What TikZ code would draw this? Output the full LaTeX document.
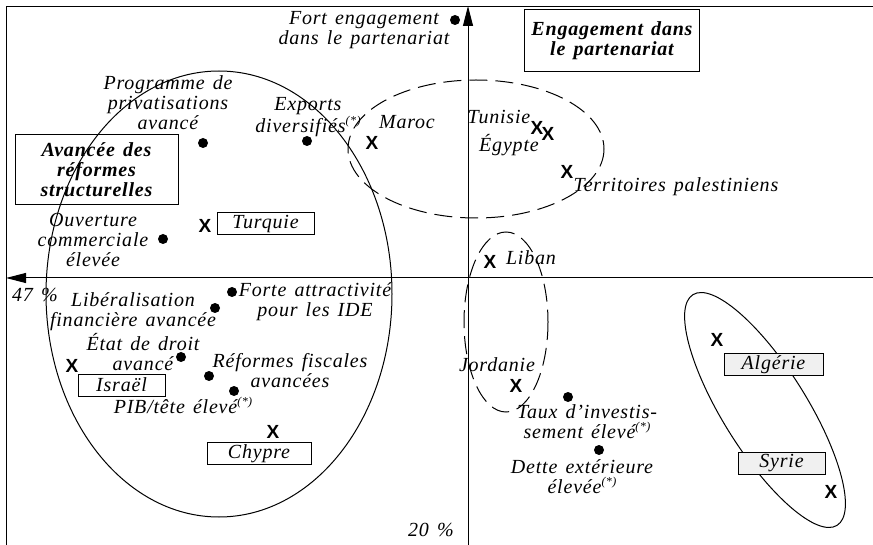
\documentclass[tikz,border=0pt]{standalone}
\usepackage{fontspec}
\setmainfont{Liberation Serif}
\newfontfamily\lblfont{Liberation Serif}[LetterSpace=4,WordSpace=1.4]
\newfontfamily\xfont{Liberation Sans}
\usetikzlibrary{arrows.meta}
\newcommand\starnote{\raisebox{0.4em}{\fontsize{12}{12}\selectfont(*)}}
\begin{document}
\begin{tikzpicture}[x=1pt,y=-1pt,
  line width=1pt,
  lbl/.style={font=\fontsize{20}{20}\selectfont\lblfont\itshape, align=center, inner sep=0pt},
  ttl/.style={draw, font=\fontsize{20}{20}\selectfont\lblfont\bfseries\itshape, align=center, inner sep=0pt},
  dot/.style={circle, fill, inner sep=0pt, minimum size=10pt},
  xm/.style={font=\fontsize{19}{19}\selectfont\xfont\bfseries, inner sep=0pt},
  cbox/.style={draw, font=\fontsize{20}{20}\selectfont\lblfont\itshape, inner sep=0pt, minimum height=22pt},
  gbox/.style={cbox, fill=black!6},
  dashell/.style={dash pattern=on 18pt off 8pt},
  axarrow/.style={-{Triangle[length=20pt,width=10pt]}}
]
\useasboundingbox (0,0) rectangle (873,545);

% frame and axes
\coordinate (fbl) at (6,545);
\coordinate (ftl) at (6,7);
\coordinate (ftr) at (873,7);
\draw (fbl) -- (ftl) -- (ftr);
\coordinate (ybot) at (468,545);
\coordinate (ytop) at (468,6);
\draw[axarrow] (ybot) -- (ytop);
\coordinate (xr) at (873,278);
\coordinate (xl) at (6,278);
\draw[axarrow] (xr) -- (xl);

% ellipses
\coordinate (ebig) at (219,294);
\draw (ebig) ellipse [x radius=173, y radius=223];
\coordinate (etop) at (476,149);
\draw[dashell] (etop) ellipse [x radius=128, y radius=69];
\coordinate (emid) at (506,322);
\draw[dashell] (emid) ellipse [x radius=42, y radius=90];
\coordinate (eright) at (765,410);
\draw[rotate around={32:(eright)}] (eright) ellipse [x radius=42, y radius=136];

% title boxes
\node[ttl, minimum width=175pt, minimum height=62pt] (eng) at (612,41) {Engagement dans\\le partenariat};
\node[ttl, minimum width=163pt, minimum height=70pt] (avf) at (96.5,170) {Avancée des\\réformes\\structurelles};

% variables (dots + labels)
\node[dot] (dfort) at (455,20) {};
\node[lbl] (lfort) at (364,30) {Fort engagement\\dans le partenariat};
\node[dot] (dprog) at (203,143) {};
\node[lbl] (lprog) at (168,103) {Programme de\\privatisations\\avancé};
\node[dot] (dexp) at (307,141) {};
\node[lbl] (lexp) at (308,117) {Exports\\diversifiés\starnote};
\node[dot] (douv) at (163,239) {};
\node[lbl] (louv) at (93,240) {Ouverture\\commerciale\\élevée};
\node[dot] (dfor) at (232,292) {};
\node[lbl] (lfor) at (315,302) {Forte attractivité\\pour les IDE};
\node[dot] (dlib) at (215,308) {};
\node[lbl] (llib) at (133,312) {Libéralisation\\financière avancée};
\node[dot] (detat) at (181,357) {};
\node[lbl] (letat) at (143,352) {État de droit\\avancé};
\node[dot] (dref) at (209,376) {};
\node[lbl] (lref) at (290,371) {Réformes fiscales\\avancées};
\node[dot] (dpib) at (234,391) {};
\node[lbl] (lpib) at (183,405) {PIB/tête élevé\starnote};
\node[dot] (dtaux) at (568,397) {};
\node[lbl] (ltaux) at (587,422) {Taux d’investis-\\sement élevé\starnote};
\node[dot] (ddette) at (599,450) {};
\node[lbl] (ldette) at (582,477) {Dette extérieure\\élevée\starnote};

% countries
\node[xm] (xmar) at (372,143) {X};
\node[lbl] (lmar) at (407,122) {Maroc};
\node[xm] (xtun) at (537,128) {X};
\node[xm] (xegy) at (548,134) {X};
\node[lbl] (ltun) at (499,117) {Tunisie};
\node[lbl] (legy) at (509,145) {Égypte};
\node[xm] (xtur) at (205,226) {X};
\node[cbox, minimum width=97pt] (btur) at (265.5,224) {Turquie};
\node[xm] (xpal) at (567,172) {X};
\node[lbl] (lpal) at (676,187) {Territoires palestiniens};
\node[xm] (xlib) at (490,262) {X};
\node[lbl] (llibn) at (531,258) {Liban};
\node[lbl] (ljor) at (497,365) {Jordanie};
\node[xm] (xjor) at (516,386) {X};
\node[xm] (xisr) at (72,366) {X};
\node[cbox, minimum width=87pt] (bisr) at (121.5,385) {Israël};
\node[xm] (xchy) at (273,432) {X};
\node[cbox, minimum width=104pt] (bchy) at (259,453.5) {Chypre};
\node[xm] (xalg) at (717,340) {X};
\node[gbox, minimum width=99pt] (balg) at (773.5,364.5) {Algérie};
\node[gbox, minimum width=87pt] (bsyr) at (781.5,463) {Syrie};
\node[xm] (xsyr) at (831,492) {X};

% axis percentages
\node[lbl] (p47) at (35,295) {47 \%};
\node[lbl] (p20) at (431,530) {20 \%};
\end{tikzpicture}
\end{document}
